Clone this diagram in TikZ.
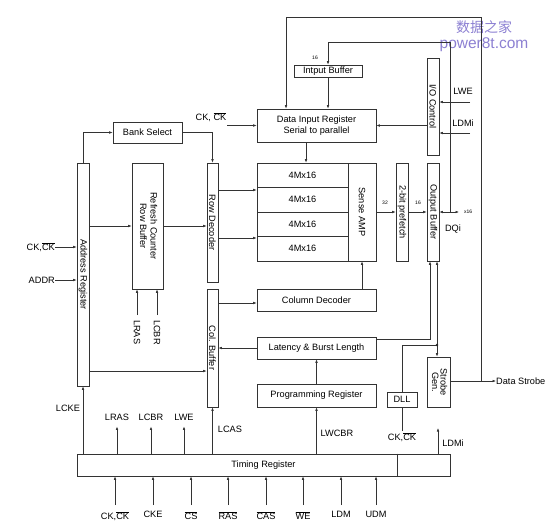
\documentclass[tikz,border=0pt]{standalone}
\usepackage{fontspec}
\setmainfont{Liberation Sans}
\newfontfamily\cjkfont{Noto Sans CJK SC}
\usepackage{graphicx}
\usetikzlibrary{arrows.meta,calc}
\newcommand\ovl[1]{$\overline{\mbox{#1}}$}
\newcommand\rot[1]{\rotatebox{-90}{#1}}
\definecolor{wm}{RGB}{140,128,210}
\begin{document}
\begin{tikzpicture}[x=1pt,y=-1pt,
  box/.style={draw=black!80, line width=0.6pt, inner sep=0pt, font=\fontsize{9.2}{10.5}\selectfont, align=center},
  arr/.style={draw=black!80, line width=0.6pt, -{Latex[length=3.5pt,width=2.6pt]}},
  arrtwo/.style={draw=black!80, line width=0.6pt, {Latex[length=3.5pt,width=2.6pt]}-{Latex[length=3.5pt,width=2.6pt]}},
  ln/.style={draw=black!80, line width=0.6pt},
  lbl/.style={inner sep=1pt, font=\fontsize{9.2}{10.5}\selectfont},
  small/.style={inner sep=0pt, font=\fontsize{5}{6}\selectfont}]
\useasboundingbox (0,0) rectangle (553,527);

% watermark
\node[text=wm, font=\cjkfont\fontsize{14}{16}\selectfont, inner sep=0pt] (wm1) at (484,27) {数据之家};
\node[text=wm, font=\fontsize{15.5}{18}\selectfont, inner sep=0pt] (wm2) at (484,45) {power8t.com};

% boxes
\node[box, minimum width=12pt, minimum height=223pt] (ar) at (83,274.5) {\rot{Address Register}};
\node[box, minimum width=31pt, minimum height=126pt] (rc) at (147.5,226) {\rot{\begin{tabular}{@{}c@{}}Refresh Counter\\Row Buffer\end{tabular}}};
\node[box, minimum width=11pt, minimum height=119pt] (rd) at (212.5,222.5) {\rot{Row Decoder}};
\node[box, minimum width=11pt, minimum height=118pt] (cb) at (212.5,348) {\rot{Col. Buffer}};
\node[box, minimum width=69pt, minimum height=21pt] (bs) at (147.5,132.5) {Bank Select};
\node[box, minimum width=119pt, minimum height=33pt] (dir) at (316.5,125.5) {Data Input Register\\[1pt]Serial to parallel};
\node[box, minimum width=68pt, minimum height=12pt] (ib) at (328,71) {Intput Buffer};
\node[box, minimum width=12pt, minimum height=97pt] (io) at (433,106.5) {\rot{I/O Control}};
\node[box, minimum width=91pt, minimum height=24.5pt] (m1) at (302.5,175.25) {4Mx16};
\node[box, minimum width=91pt, minimum height=24.5pt] (m2) at (302.5,199.75) {4Mx16};
\node[box, minimum width=91pt, minimum height=24.5pt] (m3) at (302.5,224.25) {4Mx16};
\node[box, minimum width=91pt, minimum height=24.5pt] (m4) at (302.5,248.75) {4Mx16};
\node[box, minimum width=28pt, minimum height=98pt] (sa) at (362,212) {\rot{Sense AMP}};
\node[box, minimum width=12pt, minimum height=98pt] (pf) at (402,212) {\rot{2-bit prefetch}};
\node[box, minimum width=12pt, minimum height=98pt] (ob) at (433,212) {\rot{Output Buffer}};
\node[box, minimum width=119pt, minimum height=22pt] (cd) at (316.5,300) {Column Decoder};
\node[box, minimum width=119pt, minimum height=22pt] (lb) at (316.5,348) {Latency \& Burst Length};
\node[box, minimum width=119pt, minimum height=23pt] (pr) at (316.5,395.5) {Programming Register};
\node[box, minimum width=30pt, minimum height=15pt] (dll) at (402,399.5) {DLL};
\node[box, minimum width=23pt, minimum height=50pt] (sg) at (438.5,382) {\rot{\begin{tabular}{@{}c@{}}Strobe\\[-2pt]Gen.\end{tabular}}};
\node[box, minimum width=373pt, minimum height=22pt] (tr) at (263.5,465) {Timing Register};
\draw[ln] (tr.north -| 397,0) -- (tr.south -| 397,0);

% labels
\node[lbl] (ck1) at (211,117) {CK, \ovl{CK}};
\coordinate (ck1s) at (227,125.5);
\node[lbl, anchor=east, inner sep=0pt] (ck2) at (55,247) {CK,\ovl{CK}};
\node[lbl, anchor=east, inner sep=0pt] (addr) at (55,280) {ADDR};
\node[lbl, anchor=north, inner sep=0pt] (lras1) at (137,320) {\rot{LRAS}};
\node[lbl, anchor=north, inner sep=0pt] (lcbr1) at (157,320) {\rot{LCBR}};
\node[lbl] (lwe1) at (463,91) {LWE};
\node[lbl] (ldmi1) at (463,123) {LDMi};
\coordinate (lwes) at (470,102);
\coordinate (ldmis) at (470,133);
\node[small] (n16a) at (315,58) {16};
\node[small] (n32) at (385,203) {32};
\node[small] (n16b) at (418,203) {16};
\node[small, anchor=west] (x16) at (464,212) {x16};
\node[lbl] (dqi) at (453,229) {DQi};
\coordinate (dqj) at (450,212);
\coordinate (dqe) at (459,212);
\coordinate (t1) at (450,42);
\coordinate (t2) at (481,17);
\coordinate (sj) at (481,381);
\coordinate (jn) at (437,345);
\node[lbl, anchor=west, inner sep=0pt] (ds) at (496,381) {Data Strobe};
\node[lbl] (ck3) at (402,437) {CK,\ovl{CK}};
\node[lbl] (lcke) at (68,408) {LCKE};
\node[lbl] (lras2) at (117,417) {LRAS};
\node[lbl] (lcbr2) at (151,417) {LCBR};
\node[lbl] (lwe2) at (184,417) {LWE};
\node[lbl] (lcas) at (230,429) {LCAS};
\node[lbl] (lwcbr) at (337,433) {LWCBR};
\node[lbl] (ldmi2) at (453,443) {LDMi};
\coordinate (ldmie) at (438,428);

\foreach \n/\x/\t in {i1/115/{CK,\ovl{CK}}, i2/153/CKE, i3/191/\ovl{CS}, i4/228/\ovl{RAS}, i5/266/\ovl{CAS}, i6/303/\ovl{WE}, i7/341/LDM, i8/376/UDM}{
  \node[lbl, anchor=north, inner sep=0pt] (\n) at (\x,511) {\t};
  \draw[arr] ([yshift=6pt]\n.north) -- (\n.north |- tr.south);
}

% connectors
\draw[arr] (ar.north) |- (bs.west);
\draw[arr] (bs.east) -| (rd.north);
\draw[arr] (ck1s) -- (dir.west);
\draw[arr] (ib.south) -- (ib.south |- dir.north);
\draw[arr] (dqj) -- (t1) -| (ib.north);
\draw[arr] (sj) -- (t2) -| ([xshift=-30.5pt]dir.north);
\draw[arr] (io.west |- dir.east) -- (dir.east);
\draw[arr] (lwes) -- (lwes -| io.east);
\draw[arr] (ldmis) -- (ldmis -| io.east);
\draw[arr] ([xshift=-10.5pt]dir.south) -- ([xshift=-10.5pt]dir.south |- m1.north);
\draw[arr] (sa.east) -- (pf.west);
\draw[arr] (pf.east) -- (ob.west);
\draw[arrtwo] (ob.east) -- (dqe);
\draw[arr] (rd.east |- 0,190) -- (m2.west |- 0,190);
\draw[arr] (rd.east |- 0,238) -- (m4.west |- 0,238);
\draw[arr] (ar.east |- rc.west) -- (rc.west);
\draw[arr] (rc.east) -- (rc.east -| rd.west);
\draw[arr] (ck2.east) -- (ck2.east -| ar.west);
\draw[arr] (addr.east) -- (addr.east -| ar.west);
\draw[arr] (ar.east |- 0,371) -- (cb.west |- 0,371);
\draw[arr] ([yshift=5pt]lras1.north) -- (lras1.north |- rc.south);
\draw[arr] ([yshift=5pt]lcbr1.north) -- (lcbr1.north |- rc.south);
\draw[arr] (cb.east |- 0,303) -- (cd.west |- 0,303);
\draw[arr] (cd.north -| sa.south) -- (sa.south);
\draw[arr] (lb.west) -- (lb.west -| cb.east);
\draw[arr] ([yshift=-3pt]lb.north east) -| ([xshift=-3pt]ob.south);
\draw[arr] (pr.north) -- (lb.south);
\draw[ln] (dll.north) |- (jn);
\draw[arr] (jn) -- (jn |- ob.south);
\draw[arr] (jn) -- (jn |- sg.north);
\fill[black!85] (jn) circle (1.3pt);
\draw[arr] (sg.east |- ds.west) -- (ds.west);
\draw[ln] (dll.south) -- (ck3.north);
\draw[arr] (ar.south |- tr.north) -- (ar.south);
\draw[arr] (lras2.south |- tr.north) -- ([yshift=-5pt]lras2.south);
\draw[arr] (lcbr2.south |- tr.north) -- ([yshift=-5pt]lcbr2.south);
\draw[arr] (lwe2.south |- tr.north) -- ([yshift=-5pt]lwe2.south);
\draw[arr] (cb.south |- tr.north) -- (cb.south);
\draw[arr] (pr.south |- tr.north) -- (pr.south);
\draw[arr] (ldmie |- tr.north) -- (ldmie);
\end{tikzpicture}
\end{document}
